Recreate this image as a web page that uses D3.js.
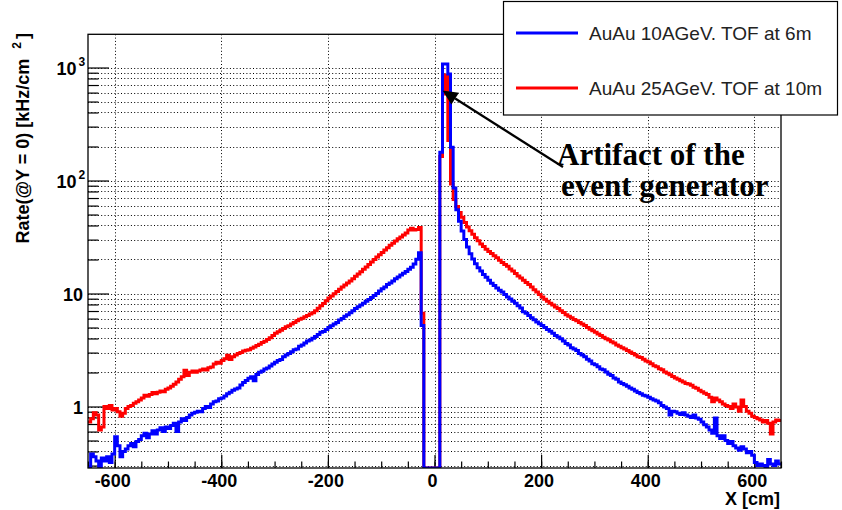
<!DOCTYPE html>
<html lang="en">
<head>
<meta charset="UTF-8">
<title>Rate at Y = 0 vs X</title>
<script src="https://cdnjs.cloudflare.com/ajax/libs/d3/7.8.5/d3.min.js"></script>
<style>
  body { margin: 0; background: #fff; }
  svg text { font-family: "Liberation Sans", Arial, Helvetica, sans-serif; }
</style>
</head>
<body>
<div id="chart"></div>
<script>
// histogram binning: 260 bins of 5 cm from -650 to 650
const xMin = -650, xMax = 650, binWidth = 5;

// AuAu 10AGeV, TOF at 6m (blue), one row = 50 cm
const blueRate = [
  0.27, 0.38, 0.36, 0.33, 0.27, 0.35, 0.33, 0.36, 0.32, 0.38,
  0.54, 0.45, 0.36, 0.40, 0.42, 0.45, 0.47, 0.44, 0.49, 0.51,
  0.55, 0.58, 0.53, 0.57, 0.61, 0.57, 0.62, 0.65, 0.60, 0.66,
  0.64, 0.68, 0.71, 0.60, 0.73, 0.78, 0.75, 0.80, 0.84, 0.87,
  0.89, 0.91, 0.90, 0.96, 1.00, 0.98, 1.05, 1.10, 1.12, 1.17,
  1.19, 1.24, 1.30, 1.34, 1.39, 1.43, 1.46, 1.55, 1.63, 1.70,
  1.78, 1.83, 1.69, 1.92, 2.01, 2.06, 2.15, 2.19, 2.28, 2.38,
  2.47, 2.56, 2.61, 2.75, 2.85, 2.95, 3.05, 3.18, 3.23, 3.42,
  3.51, 3.65, 3.79, 3.88, 4.02, 4.16, 4.34, 4.53, 4.62, 4.81,
  5.00, 5.18, 5.37, 5.55, 5.83, 6.02, 6.30, 6.48, 6.76, 7.04,
  7.35, 7.63, 7.90, 8.20, 8.55, 8.85, 9.20, 9.60, 10.0, 10.5,
  11.0, 11.4, 12.0, 12.4, 12.9, 13.5, 14.0, 14.6, 15.1, 15.7,
  16.4, 17.1, 18.2, 20.1, 22.9, 5.2, 0, 0, 0, 0,
  0, 0, 178, 1075, 1075, 878, 197, 86, 55, 43.5,
  35.7, 30.0, 25.8, 22.5, 20.2, 18.3, 16.9, 15.8, 14.7, 13.9,
  13.1, 12.3, 11.8, 11.2, 10.7, 10.3, 9.80, 9.30, 8.95, 8.55,
  8.20, 7.80, 7.45, 6.90, 6.70, 6.40, 6.10, 5.85, 5.60, 5.40,
  5.20, 5.00, 4.80, 4.63, 4.44, 4.26, 4.12, 3.98, 3.79, 3.61,
  3.50, 3.31, 3.22, 3.13, 2.94, 2.85, 2.76, 2.62, 2.53, 2.39,
  2.34, 2.25, 2.15, 2.11, 2.02, 1.93, 1.88, 1.79, 1.74, 1.65,
  1.60, 1.56, 1.51, 1.46, 1.42, 1.37, 1.33, 1.30, 1.26, 1.24,
  1.21, 1.17, 1.14, 1.12, 1.08, 1.02, 0.99, 0.96, 0.84, 0.91,
  0.90, 0.87, 0.85, 0.88, 0.84, 0.82, 0.80, 0.84, 0.79, 0.77,
  0.73, 0.69, 0.66, 0.62, 0.58, 0.79, 0.55, 0.52, 0.55, 0.50,
  0.47, 0.49, 0.45, 0.43, 0.41, 0.44, 0.42, 0.39, 0.40, 0.37,
  0.32, 0.30, 0.31, 0.30, 0.29, 0.34, 0.31, 0.30, 0.33, 0.31
];

// AuAu 25AGeV, TOF at 10m (red)
const redRate = [
  0.73, 0.78, 0.88, 0.84, 0.62, 0.66, 1.00, 0.96, 1.02, 0.93,
  0.96, 0.90, 0.82, 0.87, 0.96, 1.00, 1.02, 1.07, 1.10, 1.14,
  1.19, 1.26, 1.23, 1.28, 1.33, 1.30, 1.34, 1.37, 1.35, 1.42,
  1.46, 1.51, 1.57, 1.65, 1.74, 1.83, 2.09, 1.88, 2.01, 2.06,
  2.01, 2.06, 2.10, 2.15, 2.10, 2.20, 2.24, 2.38, 2.47, 2.42,
  2.55, 2.65, 2.84, 2.61, 2.75, 2.85, 2.95, 3.00, 3.10, 3.14,
  3.18, 3.27, 3.37, 3.46, 3.55, 3.69, 3.78, 3.92, 4.06, 4.25,
  4.44, 4.58, 4.72, 4.90, 5.09, 5.18, 5.37, 5.55, 5.74, 5.92,
  6.03, 6.22, 6.40, 6.59, 6.77, 7.05, 7.42, 7.80, 8.17, 8.63,
  9.13, 9.50, 9.97, 10.4, 10.9, 11.4, 11.9, 12.4, 12.9, 13.5,
  14.2, 14.9, 15.6, 16.4, 17.2, 18.1, 19.0, 20.0, 21.0, 22.0,
  23.1, 24.3, 25.4, 26.7, 27.8, 29.2, 30.6, 31.6, 33.0, 34.4,
  36.4, 37.8, 36.4, 36.9, 38.3, 6.7, 0, 0, 0, 0,
  0, 0, 163, 583, 860, 226, 93, 68, 59, 52,
  47.3, 42.5, 38.7, 35.9, 33.5, 31.2, 29.3, 27.4, 26.0, 24.6,
  23.5, 22.6, 21.6, 20.7, 19.7, 18.8, 18.1, 17.4, 16.5, 15.8,
  15.0, 14.3, 13.7, 13.1, 12.5, 12.0, 11.4, 10.8, 10.3, 9.80,
  9.30, 8.90, 8.55, 8.20, 7.90, 7.60, 7.35, 7.05, 6.80, 6.50,
  6.30, 6.10, 5.90, 5.75, 5.55, 5.38, 5.20, 5.00, 4.82, 4.68,
  4.53, 4.39, 4.25, 4.11, 3.97, 3.88, 3.74, 3.65, 3.51, 3.42,
  3.31, 3.22, 3.13, 3.04, 2.94, 2.85, 2.76, 2.71, 2.62, 2.53,
  2.48, 2.39, 2.30, 2.25, 2.16, 2.11, 2.02, 1.97, 1.91, 1.84,
  1.79, 1.74, 1.69, 1.65, 1.60, 1.58, 1.54, 1.48, 1.45, 1.39,
  1.35, 1.31, 1.28, 1.21, 1.10, 1.19, 1.14, 1.10, 1.05, 1.02,
  1.00, 0.96, 1.05, 0.99, 0.91, 1.14, 1.00, 0.91, 0.87, 0.82,
  0.80, 0.78, 0.76, 0.73, 0.75, 0.71, 0.57, 0.73, 0.76, 0.75
];

const xTicks = [-600, -400, -200, 0, 200, 400, 600];
const yTicks = [1, 10, 100, 1000];
const yTickBase = ["1", "10", "10", "10"];
const yTickExp = ["", "", "2", "3"];
const legendLabels = ["AuAu 10AGeV. TOF at 6m", "AuAu 25AGeV. TOF at 10m"];
const seriesColors = ["#0000ff", "#ff0000"];

const W = 842, H = 510;
const frame = { left: 88, right: 781, top: 34.3, bottom: 468 };

const svg = d3.select("#chart").append("svg")
    .attr("width", W).attr("height", H);

const x = d3.scaleLinear().domain([xMin, xMax]).range([frame.left, frame.right]);
const y = d3.scaleLog().domain([0.2856, 1968]).range([frame.bottom, frame.top]).clamp(true);

// grid (dotted), vertical at major x ticks, horizontal at all log ticks
const yGrid = y.ticks().filter(v => v >= y.domain()[0] && v <= y.domain()[1]);
svg.append("g").selectAll("line").data(yGrid).join("line")
    .attr("x1", frame.left).attr("x2", frame.right)
    .attr("y1", d => Math.round(y(d)) + 0.5).attr("y2", d => Math.round(y(d)) + 0.5)
    .attr("stroke", "#000").attr("stroke-width", 1).attr("stroke-dasharray", "1,2.3");
svg.append("g").selectAll("line").data(xTicks).join("line")
    .attr("x1", d => Math.round(x(d)) + 0.5).attr("x2", d => Math.round(x(d)) + 0.5)
    .attr("y1", frame.top).attr("y2", frame.bottom)
    .attr("stroke", "#000").attr("stroke-width", 1).attr("stroke-dasharray", "1,2.3");

// ticks, drawn inward
const xMinor = d3.range(xMin, xMax + 1, 50);
svg.append("g").attr("transform", `translate(0,${frame.bottom})`)
    .call(d3.axisBottom(x).tickValues(xMinor).tickSize(-6.5).tickFormat(""))
    .call(g => g.select(".domain").remove());
svg.append("g").attr("transform", `translate(0,${frame.bottom})`)
    .call(d3.axisBottom(x).tickValues(xTicks).tickSize(-13).tickFormat(""))
    .call(g => g.select(".domain").remove());
svg.append("g").attr("transform", `translate(${frame.left},0)`)
    .call(d3.axisLeft(y).tickValues(yGrid.filter(v => !yTicks.includes(v))).tickSize(-10.5).tickFormat(""))
    .call(g => g.select(".domain").remove());
svg.append("g").attr("transform", `translate(${frame.left},0)`)
    .call(d3.axisLeft(y).tickValues(yTicks).tickSize(-21).tickFormat(""))
    .call(g => g.select(".domain").remove());
svg.selectAll(".tick line").attr("stroke", "#000").attr("stroke-width", 1.2);

// histograms as step lines
svg.append("clipPath").attr("id", "plot-clip")
    .append("rect").attr("x", frame.left).attr("y", frame.top)
    .attr("width", frame.right - frame.left).attr("height", frame.bottom - frame.top);

const step = d3.line()
    .x(d => x(d[0]))
    .y(d => d[1] > 0 ? y(d[1]) : frame.bottom)
    .curve(d3.curveStepAfter);

function binPoints(vals) {
  const pts = vals.map((v, i) => [xMin + i * binWidth, v]);
  pts.push([xMax, vals[vals.length - 1]]);
  return pts;
}

// red first, blue drawn on top
[[redRate, seriesColors[1]], [blueRate, seriesColors[0]]].forEach(([vals, col]) => {
  svg.append("path")
      .attr("clip-path", "url(#plot-clip)")
      .attr("d", step(binPoints(vals)))
      .attr("fill", "none")
      .attr("stroke", col)
      .attr("stroke-width", 3);
});

// frame
svg.append("rect")
    .attr("x", frame.left).attr("y", frame.top)
    .attr("width", frame.right - frame.left).attr("height", frame.bottom - frame.top)
    .attr("fill", "none").attr("stroke", "#000").attr("stroke-width", 1.3);

// x tick labels
svg.append("g").selectAll("text").data(xTicks).join("text")
    .attr("x", d => x(d) - 2).attr("y", 487)
    .attr("text-anchor", "middle")
    .attr("font-size", 18).attr("font-weight", "bold")
    .text(d => d);

svg.append("text")
    .attr("x", 780).attr("y", 505).attr("text-anchor", "end")
    .attr("font-size", 18).attr("font-weight", "bold")
    .text("X [cm]");

// y tick labels with exponents
yTicks.forEach((v, i) => {
  const ty = y(v) + 7;
  if (yTickExp[i]) {
    svg.append("text").attr("x", 76.5).attr("y", ty).attr("text-anchor", "end")
        .attr("font-size", 18).attr("font-weight", "bold").text(yTickBase[i]);
    svg.append("text").attr("x", 78.5).attr("y", ty - 9).attr("text-anchor", "start")
        .attr("font-size", 12).attr("font-weight", "bold").text(yTickExp[i]);
  } else {
    svg.append("text").attr("x", 83).attr("y", ty).attr("text-anchor", "end")
        .attr("font-size", 18).attr("font-weight", "bold").text(yTickBase[i]);
  }
});

// y title (rotated)
const yt = svg.append("text")
    .attr("transform", "translate(29,33) rotate(-90)")
    .attr("text-anchor", "end")
    .attr("font-size", 18).attr("font-weight", "bold");
yt.append("tspan").text("Rate(@Y = 0) [kHz/cm");
yt.append("tspan").attr("dx", 10).attr("dy", -8).attr("font-size", 12).text("2");
yt.append("tspan").attr("dx", 3).attr("dy", 8).text("]");

// legend
const lg = svg.append("g");
lg.append("rect")
    .attr("x", 503.5).attr("y", 1.5).attr("width", 334).attr("height", 113.5)
    .attr("fill", "#fff").attr("stroke", "#000").attr("stroke-width", 1.2);
const legendY = [33, 88];
legendLabels.forEach((lab, i) => {
  lg.append("line")
      .attr("x1", 516).attr("x2", 578).attr("y1", legendY[i]).attr("y2", legendY[i])
      .attr("stroke", seriesColors[i]).attr("stroke-width", 3);
  lg.append("text")
      .attr("x", 589).attr("y", legendY[i] + 7)
      .attr("font-size", 19).attr("fill", "#222")
      .text(lab);
});

// annotation arrow and text
const tip = [442.5, 90.5], tail = [563, 167];
const ang = Math.atan2(tail[1] - tip[1], tail[0] - tip[0]);
const headLen = 15, headHalf = 7;
const bx = tip[0] + headLen * Math.cos(ang), by = tip[1] + headLen * Math.sin(ang);
svg.append("line")
    .attr("x1", tail[0]).attr("y1", tail[1]).attr("x2", bx).attr("y2", by)
    .attr("stroke", "#000").attr("stroke-width", 2.2);
svg.append("path")
    .attr("d", `M${tip[0]},${tip[1]}L${bx - headHalf * Math.sin(ang)},${by + headHalf * Math.cos(ang)}L${bx + headHalf * Math.sin(ang)},${by - headHalf * Math.cos(ang)}Z`)
    .attr("fill", "#000");

const noteLines = ["Artifact of the", "event generator"];
const noteX = [557, 561], noteY = [165, 196];
noteLines.forEach((t, i) => {
  svg.append("text")
      .attr("x", noteX[i]).attr("y", noteY[i])
      .style("font-family", "'Liberation Serif', 'Times New Roman', serif")
      .attr("font-size", 31).attr("font-weight", "bold")
      .text(t);
});
</script>
</body>
</html>
